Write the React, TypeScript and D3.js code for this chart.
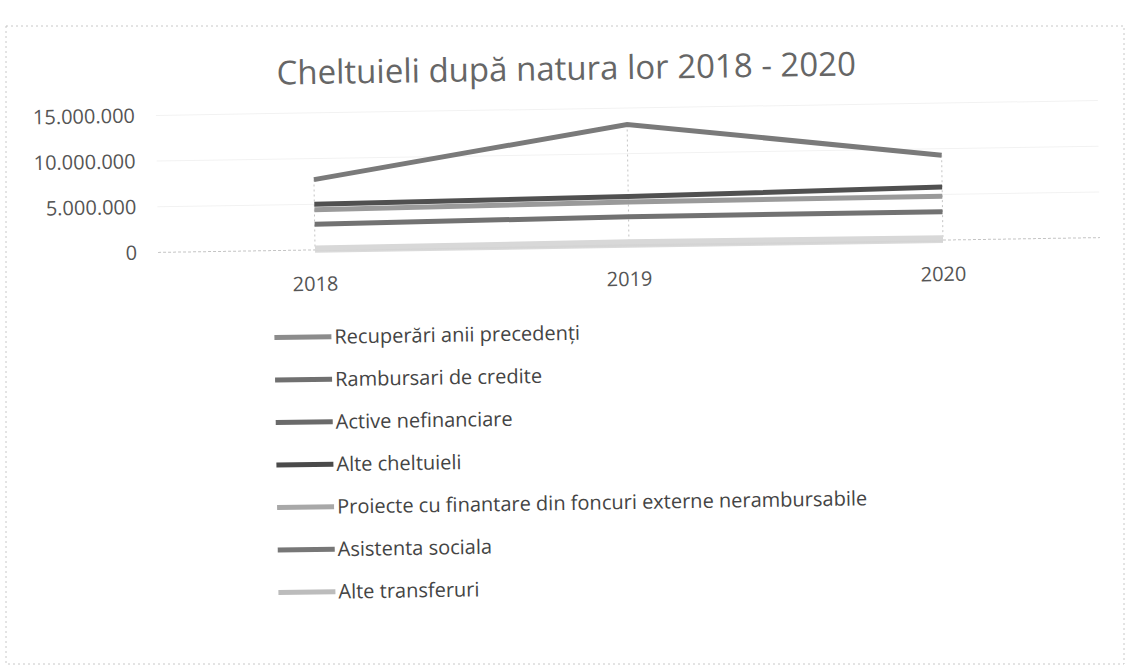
import React from 'react'
import * as d3 from 'd3'

const years = ['2018', '2019', '2020']
const seriesNames = [
  'Recuperări anii precedenți',
  'Rambursari de credite',
  'Active nefinanciare',
  'Alte cheltuieli',
  'Proiecte cu finantare din foncuri externe nerambursabile',
  'Asistenta sociala',
  'Alte transferuri',
]
const recuperari = [-40000, -30000, -50000]
const rambursari = [120000, 100000, 90000]
const activeNefinanciare = [7700000, 13200000, 9300000]
const alteCheltuieli = [5000000, 5300000, 5800000]
const proiecte = [200000, 350000, 250000]
const asistentaSociala = [2800000, 3100000, 3100000]
const alteTransferuri = [4400000, 4700000, 4800000]
const yTicks = [0, 5000000, 10000000, 15000000]

const seriesValues = [recuperari, rambursari, activeNefinanciare, alteCheltuieli, proiecte, asistentaSociala, alteTransferuri]
const seriesColors = ['#dadada', '#d4d4d4', '#7a7a7a', '#505050', '#d8d8d8', '#727272', '#9a9a9a']
const legendColors = ['#8c8c8c', '#707070', '#6a6a6a', '#4a4a4a', '#a8a8a8', '#777777', '#bcbcbc']

const width = 1126
const height = 671
const font = "'Open Sans', sans-serif"

function fmt(v: number) {
  return v.toLocaleString('de-DE')
}

function App() {
  const x = d3.scalePoint<string>().domain(years).range([158, 1100]).padding(0.5)
  const y = d3.scaleLinear().domain([0, 15000000]).range([245, 108])
  const line = d3
    .line<number>()
    .x((d, i) => x(years[i]) as number)
    .y(d => y(d))

  // lighter / small series first
  const order = [0, 1, 4, 6, 5, 3, 2]

  return (
    <svg width={width} height={height} style={{ position: 'absolute', left: 0, top: 0 }}>
      <rect x={0} y={0} width={width} height={height} fill="#fff" />
      <rect x={6} y={26} width={1118} height={638} fill="none" stroke="#c8c8c8" strokeDasharray="2,3" />
      <g transform="rotate(-0.9, 629, 245)" fontFamily={font}>
        <text x={569} y={79} textAnchor="middle" fontSize={33} fill="#666">
          Cheltuieli după natura lor 2018 - 2020
        </text>

        {yTicks.map(t => (
          <g key={t}>
            {t > 0 && <line x1={158} x2={1100} y1={y(t)} y2={y(t)} stroke="#f2f2f2" />}
            <text x={137} y={y(t)} dy="0.35em" textAnchor="end" fontSize={20} fill="#555">
              {fmt(t)}
            </text>
          </g>
        ))}
        <line x1={158} x2={1100} y1={y(0)} y2={y(0)} stroke="#c4c4c4" strokeDasharray="3,2" />

        {years.map((yr, i) => {
          const top = d3.max(seriesValues, s => s[i]) as number
          return (
            <line key={yr} x1={x(yr)} x2={x(yr)} y1={y(top)} y2={y(0)} stroke="#c4c4c4" strokeDasharray="2,3" />
          )
        })}

        {order.map(k => (
          <path key={k} d={line(seriesValues[k]) as string} fill="none" stroke={seriesColors[k]} strokeWidth={5} />
        ))}

        {years.map(yr => (
          <text key={yr} x={x(yr)} y={y(0)} dy={41} textAnchor="middle" fontSize={20} fill="#555">
            {yr}
          </text>
        ))}

        {seriesNames.map((name, i) => {
          const ly = 332 + i * 42.5
          return (
            <g key={name}>
              <line x1={273} x2={330} y1={ly} y2={ly} stroke={legendColors[i]} strokeWidth={5} />
              <text x={333} y={ly} dy="0.35em" fontSize={20} fill="#444">
                {name}
              </text>
            </g>
          )
        })}
      </g>
    </svg>
  )
}

export default App
